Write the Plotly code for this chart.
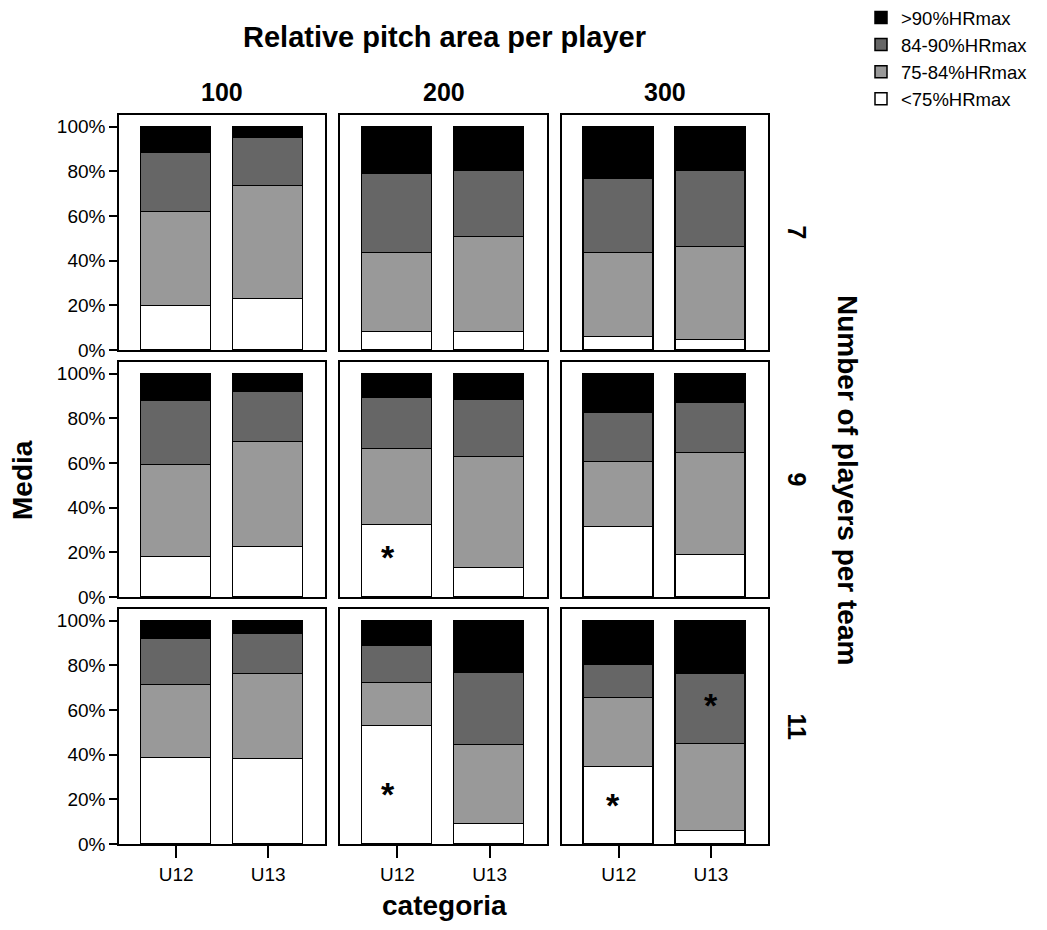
import plotly.graph_objects as go
from plotly.subplots import make_subplots

categories = ["U12", "U13"]
pitch_areas = ["100", "200", "300"]
players = ["7", "9", "11"]

# Segment percentages, ordered by players (7, 9, 11) -> area (100, 200, 300) -> category (U12, U13)
below_75 = [19.9, 23.0, 8.2, 8.2, 5.7, 4.5,
            18.1, 22.2, 32.1, 13.0, 31.5, 19.0,
            38.7, 38.1, 52.8, 9.1, 34.5, 5.8]
from_75_84 = [42.0, 50.6, 35.4, 42.2, 37.9, 41.8,
              41.1, 47.1, 34.3, 49.5, 28.9, 45.3,
              32.3, 38.2, 19.4, 35.4, 31.0, 39.1]
from_84_90 = [26.5, 21.3, 35.2, 29.6, 33.1, 33.8,
              28.4, 22.5, 22.6, 25.9, 22.1, 22.6,
              20.6, 17.9, 16.6, 32.1, 14.5, 31.4]
above_90 = [11.6, 5.1, 21.2, 20.0, 23.3, 19.9,
            12.4, 8.2, 11.0, 11.6, 17.5, 13.1,
            8.4, 5.8, 11.2, 23.4, 20.0, 23.7]

series_names = ["<75%HRmax", "75-84%HRmax", "84-90%HRmax", ">90%HRmax"]
series_values = [below_75, from_75_84, from_84_90, above_90]
series_colors = ["#ffffff", "#999999", "#666666", "#000000"]

# Significance markers: (players, area, category, y position)
stars = [("9", "200", "U12", 18.0),
         ("11", "200", "U12", 22.4),
         ("11", "300", "U12", 17.4),
         ("11", "300", "U13", 62.3)]

yticks = [0, 20, 40, 60, 80, 100]
ytick_text = ["0%", "20%", "40%", "60%", "80%", "100%"]

FONT = "Liberation Sans, Arial, sans-serif"
OFF = 8  # page body margin of the browser

fig = make_subplots(rows=3, cols=3, horizontal_spacing=15 / 649,
                    vertical_spacing=12 / 729, shared_xaxes=False, shared_yaxes=False)

for r, npl in enumerate(players):
    for c, area in enumerate(pitch_areas):
        base = (r * 3 + c) * 2
        for s, (name, vals, col) in enumerate(zip(series_names, series_values, series_colors)):
            fig.add_trace(go.Bar(
                x=categories, y=vals[base:base + 2], name=name,
                marker=dict(color=col, line=dict(color="black", width=1.5)),
                width=0.76, showlegend=(r == 0 and c == 0), legendgroup=name,
            ), row=r + 1, col=c + 1)
        fig.update_xaxes(range=[-0.62, 1.62], showline=True, mirror=True, linecolor="black",
                         linewidth=1.5, showgrid=False, zeroline=False,
                         ticks="outside" if r == 2 else "", ticklen=12, tickwidth=2,
                         tickcolor="black", showticklabels=(r == 2),
                         tickfont=dict(family=FONT, size=19, color="black"),
                         row=r + 1, col=c + 1)
        fig.update_yaxes(range=[0, 105.2], showline=True, mirror=True, linecolor="black",
                         linewidth=1.5, showgrid=False, zeroline=False,
                         tickvals=yticks, ticktext=ytick_text,
                         ticks="outside" if c == 0 else "", ticklen=8, tickwidth=2,
                         tickcolor="black", showticklabels=(c == 0),
                         tickfont=dict(family=FONT, size=19, color="black"),
                         row=r + 1, col=c + 1)

def axis_idx(r, c):
    i = r * 3 + c + 1
    return "" if i == 1 else str(i)

xshifts = {"U12": -9, "U13": -3}
for npl, area, cat, yv in stars:
    r = players.index(npl)
    c = pitch_areas.index(area)
    k = axis_idx(r, c)
    fig.add_annotation(x=categories.index(cat), y=yv, xref="x" + k, yref="y" + k,
                       text="<b>*</b>", showarrow=False,
                       xshift=xshifts[cat] if area == "200" else xshifts[cat] + 3,
                       xanchor="center", yanchor="middle",
                       font=dict(family=FONT, size=34, color="black"))

def px_x(x):
    return (x - 119) / 649

def px_y(y):
    return (844 - y) / 729

def label(x, y, text, size, angle=0):
    fig.add_annotation(x=px_x(x), y=px_y(y), xref="paper", yref="paper",
                       text=text, showarrow=False, textangle=angle,
                       xanchor="center", yanchor="middle",
                       font=dict(family=FONT, size=size, color="black"))

# Column headers
for cx, area in zip([222, 443.5, 665], pitch_areas):
    label(cx, 92, "<b>%s</b>" % area, 25)
# Row labels
for cy, npl in zip([232.5, 479.5, 726.5], players):
    label(797, cy, "<b>%s</b>" % npl, 25, 90)

label(444, 37, "<b>Relative pitch area per player</b>", 29)
label(848, 480, "<b>Number of players per team</b>", 28, 90)
label(22, 480, "<b>Media</b>", 28, -90)
label(444, 905, "<b>categoria</b>", 28)

fig.update_layout(
    width=1047, height=930, barmode="stack", bargap=0,
    margin=dict(l=119 - OFF, r=1047 - 119 - 649 + OFF, t=115 - OFF, b=930 - 115 - 729 + OFF,
                autoexpand=False),
    plot_bgcolor="white", paper_bgcolor="white",
    font=dict(family=FONT, color="black"),
    legend=dict(x=px_x(861), y=px_y(-1), xanchor="left", yanchor="top",
                traceorder="reversed", font=dict(family=FONT, size=18.5, color="black"),
                bgcolor="rgba(0,0,0,0)", tracegroupgap=0, itemwidth=30),
)

fig.write_html("out.html")
